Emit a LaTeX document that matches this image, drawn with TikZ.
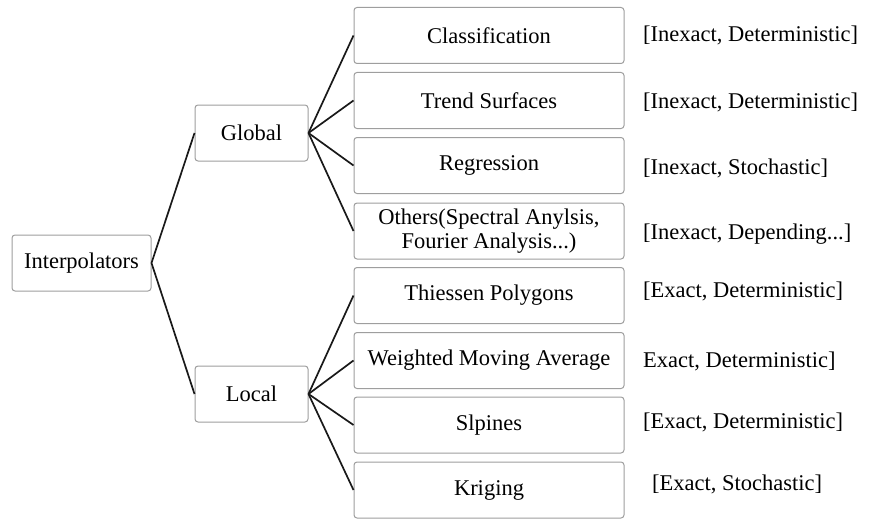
\documentclass[tikz,border=0pt]{standalone}
\usepackage{fontspec}
\setmainfont{Liberation Serif}
\begin{document}
\begin{tikzpicture}[x=1pt,y=-1pt,
  box/.style={draw=black!38,fill=white,rounded corners=3pt,line width=1pt,inner sep=0pt,
    font=\fontsize{22.5}{24}\selectfont,align=center,minimum height=56pt},
  leaf/.style={box,minimum width=270pt},
  mid/.style={box,minimum width=113pt},
  lab/.style={anchor=west,inner sep=0pt,font=\fontsize{22.5}{24}\selectfont,text height=16pt,text depth=4pt},
  conn/.style={line width=1.7pt,black!90}]
\useasboundingbox (0,0) rectangle (873,519);
\node[box,minimum width=139pt] (interp) at (81.5,263) {Interpolators};
\node[mid] (global) at (251.5,133) {Global};
\node[mid] (local) at (251.5,394) {Local};
\node[leaf] (c1) at (489,35.5) {Classification};
\node[leaf] (c2) at (489,100.5) {Trend Surfaces};
\node[leaf] (c3) at (489,165.5) {Regression};
\node[leaf] (c4) at (489,231) {Others(Spectral Anylsis,\\Fourier Analysis...)};
\node[leaf] (c5) at (489,295.5) {Thiessen Polygons};
\node[leaf] (c6) at (489,360.5) {Weighted Moving Average};
\node[leaf] (c7) at (489,425) {Slpines};
\node[leaf] (c8) at (489,490) {Kriging};
\node[lab] (l1) at (643,36) {[Inexact, Deterministic]};
\node[lab] (l2) at (643,102) {[Inexact, Deterministic]};
\node[lab] (l3) at (643,168) {[Inexact, Stochastic]};
\node[lab] (l4) at (643,233) {[Inexact, Depending...]};
\node[lab] (l5) at (643,291) {[Exact, Deterministic]};
\node[lab] (l6) at (643,361) {Exact, Deterministic]};
\node[lab] (l7) at (643,422) {[Exact, Deterministic]};
\node[lab] (l8) at (652,484) {[Exact, Stochastic]};
\draw[conn] (interp.east) -- (global.west);
\draw[conn] (interp.east) -- (local.west);
\foreach \c in {c1,c2,c3,c4} \draw[conn] (global.east) -- (\c.west);
\foreach \c in {c5,c6,c7,c8} \draw[conn] (local.east) -- (\c.west);
\end{tikzpicture}
\end{document}
